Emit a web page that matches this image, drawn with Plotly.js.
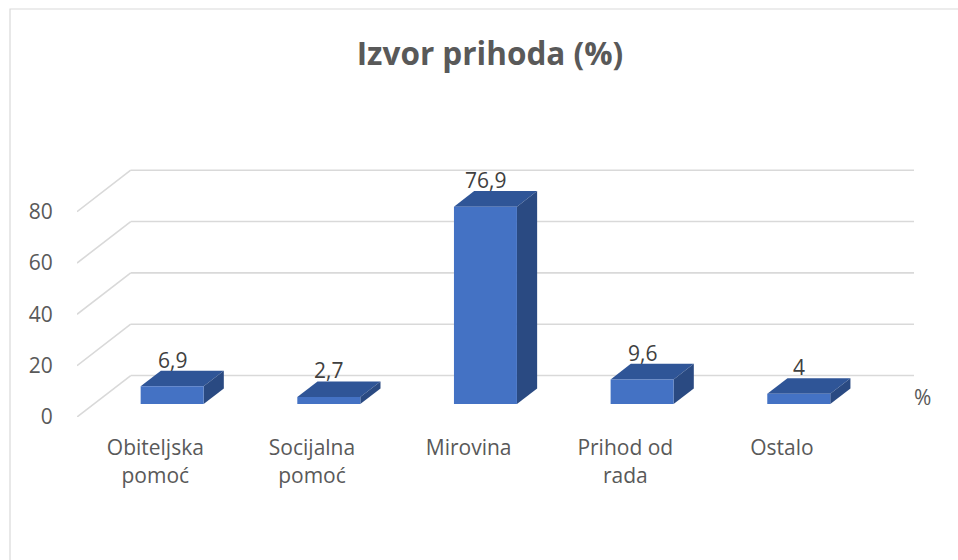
<!DOCTYPE html>
<html>
<head>
<meta charset="utf-8">
<script src="https://cdn.plot.ly/plotly-3.0.1.min.js"></script>
<style>
  html, body { margin: 0; padding: 0; background: #ffffff; }
  #chart { width: 958px; height: 560px; }
</style>
</head>
<body>
<div id="chart"></div>
<script>
// ---- data ----
const categories = ['Obiteljska<br>pomoć', 'Socijalna<br>pomoć', 'Mirovina', 'Prihod od<br>rada', 'Ostalo'];
const values = [6.9, 2.7, 76.9, 9.6, 4];
const yTicks = [0, 20, 40, 60, 80];
const chartTitle = 'Izvor prihoda (%)';
const depthLabel = '%';

// ---- 3D look (oblique projection) ----
const F0 = 0.313;   // depth of bar front face (0 = front edge of floor, 1 = back wall)
const F1 = 0.689;   // depth of bar back face
const DX = 0.343;   // full depth shift along x, in category units
const DY = 16.17;   // full depth shift along y, in value units
const BAR_W = 0.402;

const PX_PER_UNIT = 2.566;
const M = { l: 77, r: 44, t: 160, b: 143 };
const plotH = 560 - M.t - M.b;
const plotW = 958 - M.l - M.r;

function P(c, v, f) { return [c + (f - F0) * DX, v + (f - F0) * DY]; }
function pathOf(pts) {
  return 'M ' + pts.map(p => p[0] + ' ' + p[1]).join(' L ') + ' Z';
}

const idx = categories.map((_, i) => i);
const nCat = categories.length;

const shapes = [];
const GRID = '#d9d9d9';

// outer chart border
shapes.push({
  type: 'rect', xref: 'paper', yref: 'paper', layer: 'below',
  x0: (10 - M.l) / plotW, x1: (975 - M.l) / plotW,
  y0: (plotH + M.t - 9) / plotH, y1: (plotH + M.t - 580) / plotH,
  line: { color: GRID, width: 1.2 }, fillcolor: 'rgba(0,0,0,0)'
});

// gridlines: diagonal on left side wall + horizontal on back wall
yTicks.forEach(v => {
  const a = P(-0.5, v, 0), b = P(-0.5, v, 1), c = P(nCat - 0.5, v, 1);
  shapes.push({ type: 'line', xref: 'x', yref: 'y', layer: 'below',
    x0: a[0], y0: a[1], x1: b[0], y1: b[1], line: { color: GRID, width: 1.6 } });
  shapes.push({ type: 'line', xref: 'x', yref: 'y', layer: 'below',
    x0: b[0], y0: b[1], x1: c[0], y1: c[1], line: { color: GRID, width: 1.6 } });
});

// bar top and side faces
const ddx = (F1 - F0) * DX, ddy = (F1 - F0) * DY;
idx.forEach(i => {
  const v = values[i];
  const l = i - BAR_W / 2, r = i + BAR_W / 2;
  const topPts = [[l, v], [r, v], [r + ddx, v + ddy], [l + ddx, v + ddy]];
  const sidePts = [[r, 0], [r, v], [r + ddx, v + ddy], [r + ddx, ddy]];
  shapes.push({ type: 'path', xref: 'x', yref: 'y', layer: 'below',
    path: pathOf(topPts), fillcolor: '#2F5597', line: { width: 0 } });
  shapes.push({ type: 'path', xref: 'x', yref: 'y', layer: 'below',
    path: pathOf(sidePts), fillcolor: '#2A4A82', line: { width: 0 } });
});

const TXT = '#595959';
const FONT = '"Open Sans", "Noto Sans", sans-serif';

const annotations = idx.map(i => ({
  x: i, y: values[i] + ddy, xref: 'x', yref: 'y',
  text: String(values[i]).replace('.', ','),
  showarrow: false, xanchor: 'center', yanchor: 'bottom', yshift: -5,
  font: { family: FONT, size: 21, color: '#404040' }
}));
annotations.push({
  xref: 'paper', yref: 'paper',
  x: (922 - M.l) / plotW, y: (417 - 397) / plotH,
  text: depthLabel, showarrow: false, xanchor: 'center', yanchor: 'middle',
  font: { family: FONT, size: 21, color: TXT }
});

const yr0 = -F0 * DY;
const trace = {
  type: 'bar', x: idx, y: values, width: BAR_W,
  marker: { color: '#4472C4', line: { width: 0 } },
  hoverinfo: 'skip'
};

const layout = {
  width: 958, height: 560,
  margin: M,
  paper_bgcolor: '#ffffff', plot_bgcolor: 'rgba(0,0,0,0)',
  showlegend: false,
  title: {
    text: '<b>' + chartTitle + '</b>',
    x: 490 / 958, xref: 'container', xanchor: 'center',
    y: 1 - 54 / 560, yref: 'container', yanchor: 'middle',
    font: { family: FONT, size: 31.5, color: TXT }
  },
  xaxis: {
    range: [-0.5 - F0 * DX, nCat - 0.5 + (1 - F0) * DX],
    tickmode: 'array',
    tickvals: idx.map(i => i - F0 * DX),
    ticktext: categories,
    ticks: 'outside', ticklen: 12, tickcolor: 'rgba(0,0,0,0)',
    showgrid: false, zeroline: false, showline: false,
    tickfont: { family: FONT, size: 21, color: TXT },
    fixedrange: true
  },
  yaxis: {
    range: [yr0, yr0 + plotH / PX_PER_UNIT],
    tickmode: 'array',
    tickvals: yTicks.map(v => v - F0 * DY),
    ticktext: yTicks.map(String),
    ticks: 'outside', ticklen: 19, tickcolor: 'rgba(0,0,0,0)',
    showgrid: false, zeroline: false, showline: false,
    tickfont: { family: FONT, size: 21, color: TXT },
    fixedrange: true
  },
  shapes: shapes,
  annotations: annotations
};

Plotly.newPlot('chart', [trace], layout, { staticPlot: true, displayModeBar: false });
</script>
</body>
</html>
